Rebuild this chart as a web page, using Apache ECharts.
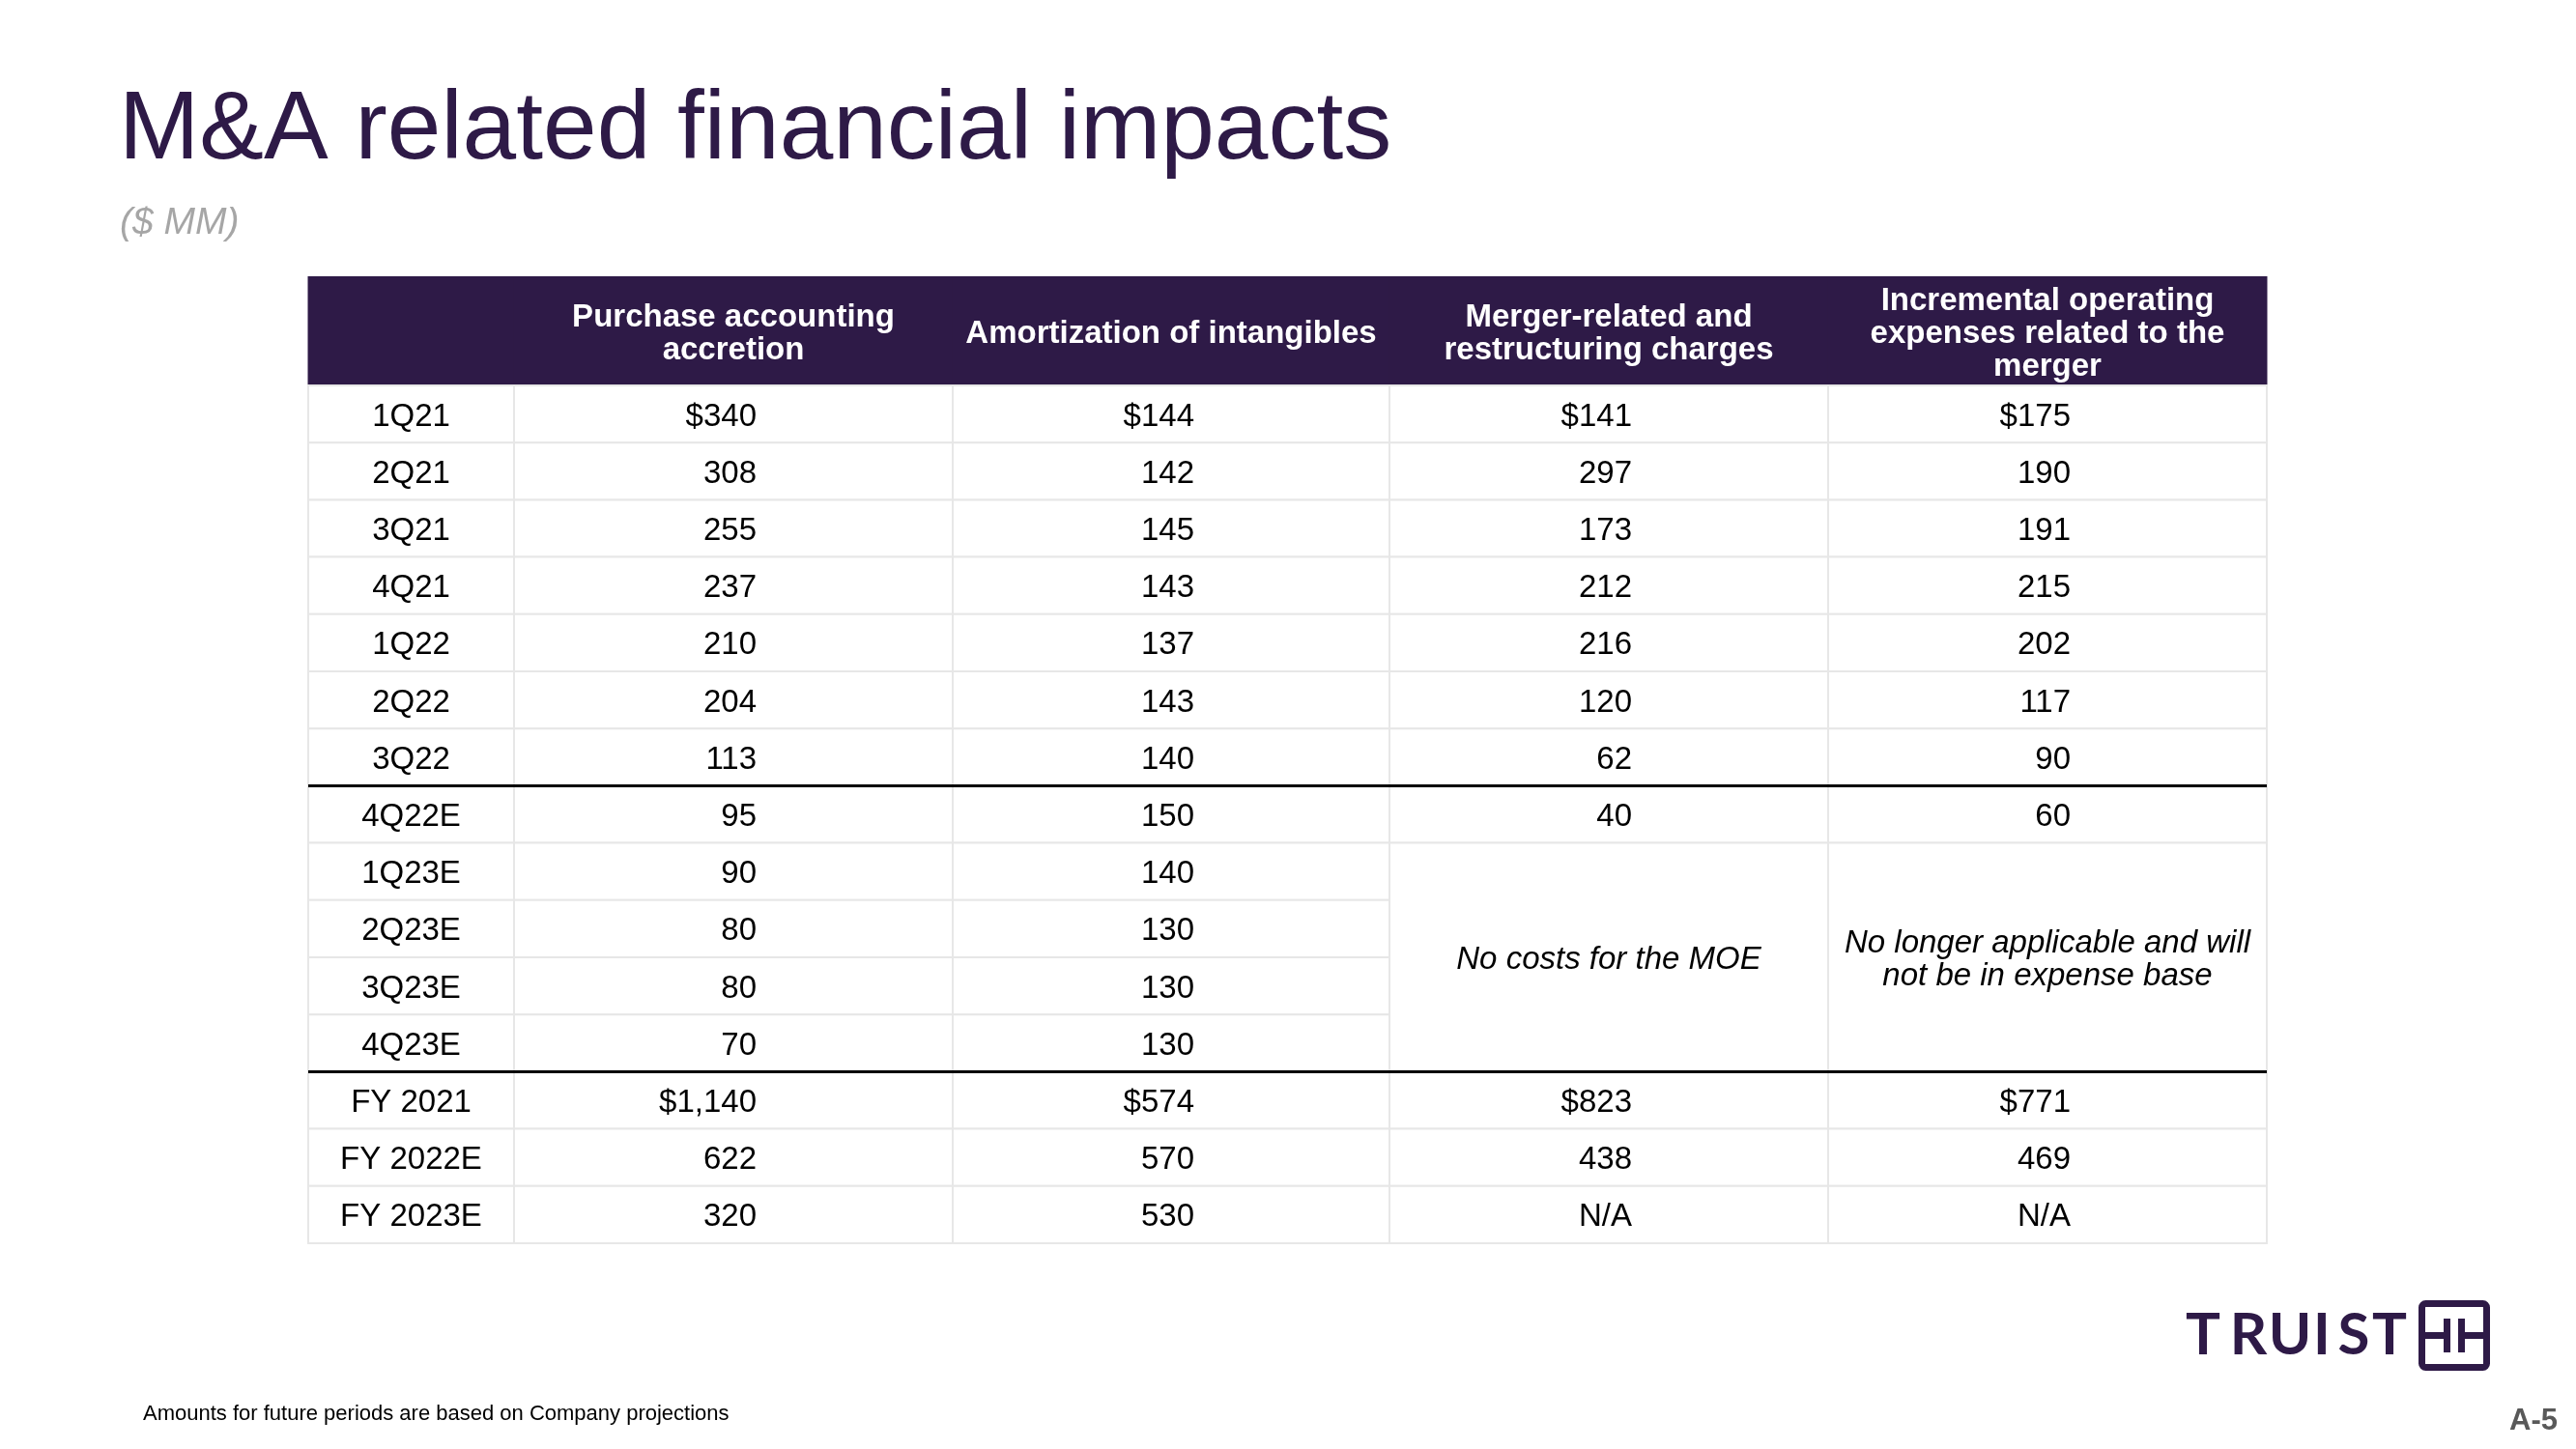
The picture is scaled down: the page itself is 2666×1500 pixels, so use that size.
<!DOCTYPE html>
<html><head><meta charset="utf-8">
<script src="https://cdn.jsdelivr.net/npm/echarts@6/dist/echarts.min.js"></script>
<style>html,body{margin:0;padding:0;background:#fff}#c{width:2666px;height:1500px}</style>
</head><body><div id="c"></div>
<script>
// ---------- DATA ----------
const periods = ['1Q21','2Q21','3Q21','4Q21','1Q22','2Q22','3Q22','4Q22E','1Q23E','2Q23E','3Q23E','4Q23E','FY 2021','FY 2022E','FY 2023E'];
const columnHeaders = ['', 'Purchase accounting\naccretion', 'Amortization of intangibles', 'Merger-related and\nrestructuring charges', 'Incremental operating\nexpenses related to the\nmerger'];
const purchaseAccretion   = [340,308,255,237,210,204,113,95,90,80,80,70,1140,622,320];
const amortization        = [144,142,145,143,137,143,140,150,140,130,130,130,574,570,530];
const mergerCharges       = [141,297,173,212,216,120,62,40,null,null,null,null,823,438,'N/A'];
const incrementalExpenses = [175,190,191,215,202,117,90,60,null,null,null,null,771,469,'N/A'];
const dollarRows = ['1Q21','FY 2021'];
const mergedNotes = [
  {col:3, from:'1Q23E', to:'4Q23E', text:'No costs for the MOE'},
  {col:4, from:'1Q23E', to:'4Q23E', text:'No longer applicable and will\nnot be in expense base'}
];
const sectionBreaksAfter = ['3Q22','4Q23E'];
const titleText = 'M&A related financial impacts';
const subtitleText = '($ MM)';
const footnoteText = 'Amounts for future periods are based on Company projections';
const pageText = 'A-5';

// ---------- LAYOUT ----------
const FONT = '"Liberation Sans", Arial, Helvetica, sans-serif';
const PURPLE = '#2e1a47';
const TABLE = {left:319, width:2027, headerTop:286, headerH:113, bodyTop:399, bodyH:888};
const colEdges = [0, 213, 667, 1119, 1573, 2027];
const VALUE_OFFSET = 24;

const valueCols = [purchaseAccretion, amortization, mergerCharges, incrementalExpenses];
function fmt(v, period){
  if (typeof v === 'string') return v;
  const s = v.toLocaleString('en-US');
  return dollarRows.includes(period) ? '$' + s : s;
}
const cells = [];
periods.forEach((p, r) => {
  cells.push({col:0, row:r, span:1, text:p, kind:'label'});
  valueCols.forEach((arr, c) => {
    const v = arr[r];
    if (v === null) return;
    cells.push({col:c+1, row:r, span:1, text:fmt(v, p), kind:'value'});
  });
});
mergedNotes.forEach(n => {
  const r0 = periods.indexOf(n.from), r1 = periods.indexOf(n.to);
  cells.push({col:n.col, row:r0, span:r1-r0+1, text:n.text, kind:'note'});
});

const chart = echarts.init(document.getElementById('c'), null, {renderer:'canvas'});

function renderHeader(params, api){
  const i = params.dataIndex;
  const x0 = api.coord([colEdges[i], 0])[0];
  const x1 = api.coord([colEdges[i+1], 0])[0];
  const bandH = api.size([0,1])[1];
  const yc = api.coord([0, 0])[1];
  return {type:'group', children:[
    {type:'rect', shape:{x:x0-0.5, y:yc-bandH/2, width:x1-x0+1, height:bandH}, style:{fill:PURPLE}},
    {type:'text', style:{text:columnHeaders[i], x:(x0+x1)/2, y:yc+3, align:'center', verticalAlign:'middle',
      fill:'#fff', fontFamily:FONT, fontWeight:'bold', fontSize:33, lineHeight:34}}
  ]};
}

function renderCell(params, api){
  const cell = cells[params.dataIndex];
  const x0 = api.coord([colEdges[cell.col], cell.row])[0];
  const x1 = api.coord([colEdges[cell.col+1], cell.row])[0];
  const bandH = api.size([0,1])[1];
  const yc = api.coord([0, cell.row])[1];
  const top = yc - bandH/2;
  const h = bandH * cell.span;
  let tx = (x0+x1)/2, align = 'center';
  if (cell.kind === 'value') { tx = (x0+x1)/2 + VALUE_OFFSET; align = 'right'; }
  return {type:'group', children:[
    {type:'rect', shape:{x:x0, y:top, width:x1-x0, height:h}, style:{fill:'#fff', stroke:'#e7e7e7', lineWidth:2}},
    {type:'text', style:{text:cell.text, x:tx, y:top+h/2+3, align:align, verticalAlign:'middle',
      fill:'#000', fontFamily:FONT, fontSize:33, fontStyle: cell.kind==='note' ? 'italic' : 'normal', lineHeight:34}}
  ]};
}

function renderBreak(params, api){
  const r = api.value(1);
  const bandH = api.size([0,1])[1];
  const y = api.coord([0, r])[1] + bandH/2;
  const x0 = api.coord([0, r])[0];
  const x1 = api.coord([colEdges[colEdges.length-1], r])[0];
  return {type:'line', shape:{x1:x0, y1:y, x2:x1, y2:y}, style:{stroke:'#000', lineWidth:3}};
}

const logoLetters = [['T',2280],['R',2327],['U',2370],['I',2403],['S',2436],['T',2473]];

const option = {
  animation:false,
  backgroundColor:'#fff',
  grid:[
    {left:TABLE.left, top:TABLE.headerTop, width:TABLE.width, height:TABLE.headerH},
    {left:TABLE.left, top:TABLE.bodyTop, width:TABLE.width, height:TABLE.bodyH}
  ],
  xAxis:[
    {type:'value', gridIndex:0, min:0, max:colEdges[colEdges.length-1], show:false},
    {type:'value', gridIndex:1, min:0, max:colEdges[colEdges.length-1], show:false}
  ],
  yAxis:[
    {type:'category', gridIndex:0, data:['header'], show:false},
    {type:'category', gridIndex:1, data:periods, inverse:true, show:false}
  ],
  series:[
    {type:'custom', xAxisIndex:0, yAxisIndex:0, renderItem:renderHeader, encode:{x:0, y:1},
      data: columnHeaders.map((h,i)=>[colEdges[i], 0]), z:2},
    {type:'custom', xAxisIndex:1, yAxisIndex:1, renderItem:renderCell, encode:{x:0, y:1},
      data: cells.map(c=>[colEdges[c.col], c.row]), z:2},
    {type:'custom', xAxisIndex:1, yAxisIndex:1, renderItem:renderBreak, encode:{x:0, y:1},
      data: sectionBreaksAfter.map(p=>[0, periods.indexOf(p)]), z:5}
  ],
  graphic:[
    {type:'text', x:123, y:136, style:{text:titleText, fill:PURPLE, fontFamily:FONT, fontSize:100, verticalAlign:'middle', align:'left'}},
    {type:'text', x:124, y:231, style:{text:subtitleText, fill:'#a6a6a6', fontFamily:FONT, fontSize:39, fontStyle:'italic', verticalAlign:'middle', align:'left'}},
    {type:'text', x:148, y:1464, style:{text:footnoteText, fill:'#000', fontFamily:FONT, fontSize:22, verticalAlign:'middle', align:'left'}},
    {type:'text', x:2647, y:1471, style:{text:pageText, fill:'#595959', fontFamily:FONT, fontSize:31, fontWeight:'bold', verticalAlign:'middle', align:'right'}},
    ...logoLetters.map(([ch,x]) => ({type:'text', x:x, y:1383, style:{text:ch, fill:PURPLE, fontFamily:'Lato, "Open Sans", sans-serif', fontWeight:'bold', fontSize:60, align:'center', verticalAlign:'middle'}})),
    {type:'rect', shape:{x:2506.5, y:1349.5, width:67, height:66, r:4}, style:{fill:'none', stroke:PURPLE, lineWidth:7}},
    {type:'rect', shape:{x:2529, y:1365, width:7, height:35}, style:{fill:PURPLE}},
    {type:'rect', shape:{x:2544, y:1365, width:7, height:35}, style:{fill:PURPLE}},
    {type:'rect', shape:{x:2506, y:1379, width:30, height:7}, style:{fill:PURPLE}},
    {type:'rect', shape:{x:2544, y:1379, width:30, height:7}, style:{fill:PURPLE}}
  ]
};
chart.setOption(option);
</script>
</body></html>
